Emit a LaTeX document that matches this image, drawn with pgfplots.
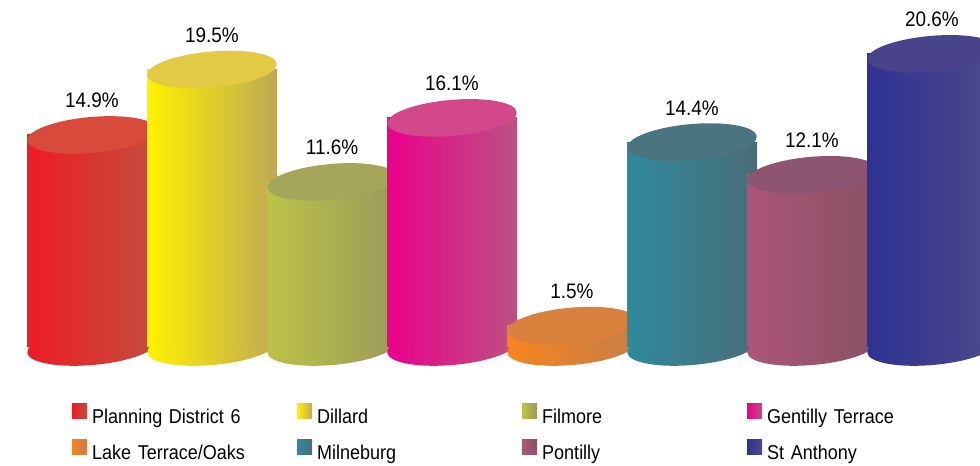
\documentclass[border=0pt]{standalone}
\usepackage{fontspec}
\setmainfont{Liberation Sans}[FakeStretch=0.9]
\usepackage{pgfplots}
\pgfplotsset{compat=1.18}

\definecolor{c1L}{HTML}{EE1C24}\definecolor{c1R}{HTML}{C24E3E}\definecolor{c1T}{HTML}{D84A3A}
\definecolor{c2L}{HTML}{FFF200}\definecolor{c2R}{HTML}{BFA955}\definecolor{c2T}{HTML}{E2CA45}
\definecolor{c3L}{HTML}{BCC246}\definecolor{c3R}{HTML}{9A9A5C}\definecolor{c3T}{HTML}{A6A65A}
\definecolor{c4L}{HTML}{EC008C}\definecolor{c4R}{HTML}{BC5282}\definecolor{c4T}{HTML}{D2488A}
\definecolor{c5L}{HTML}{F7851F}\definecolor{c5R}{HTML}{C67E48}\definecolor{c5T}{HTML}{D8803C}
\definecolor{c6L}{HTML}{2E8A9E}\definecolor{c6R}{HTML}{4B6C76}\definecolor{c6T}{HTML}{4A7580}
\definecolor{c7L}{HTML}{AD5578}\definecolor{c7R}{HTML}{875264}\definecolor{c7T}{HTML}{8E5570}
\definecolor{c8L}{HTML}{2E3192}\definecolor{c8R}{HTML}{4E4A8A}\definecolor{c8T}{HTML}{48438A}

\pgfdeclarehorizontalshading{sh1}{100bp}{color(0bp)=(c1L); color(25bp)=(c1L); color(75bp)=(c1R); color(100bp)=(c1R)}
\pgfdeclarehorizontalshading{sh2}{100bp}{color(0bp)=(c2L); color(25bp)=(c2L); color(75bp)=(c2R); color(100bp)=(c2R)}
\pgfdeclarehorizontalshading{sh3}{100bp}{color(0bp)=(c3L); color(25bp)=(c3L); color(75bp)=(c3R); color(100bp)=(c3R)}
\pgfdeclarehorizontalshading{sh4}{100bp}{color(0bp)=(c4L); color(25bp)=(c4L); color(75bp)=(c4R); color(100bp)=(c4R)}
\pgfdeclarehorizontalshading{sh5}{100bp}{color(0bp)=(c5L); color(25bp)=(c5L); color(75bp)=(c5R); color(100bp)=(c5R)}
\pgfdeclarehorizontalshading{sh6}{100bp}{color(0bp)=(c6L); color(25bp)=(c6L); color(75bp)=(c6R); color(100bp)=(c6R)}
\pgfdeclarehorizontalshading{sh7}{100bp}{color(0bp)=(c7L); color(25bp)=(c7L); color(75bp)=(c7R); color(100bp)=(c7R)}
\pgfdeclarehorizontalshading{sh8}{100bp}{color(0bp)=(c8L); color(25bp)=(c8L); color(75bp)=(c8R); color(100bp)=(c8R)}

\def\cylsh{sh1}
\pgfdeclareplotmark{cyltop}{%
  \pgfpathellipse{\pgfpointorigin}{\pgfqpoint{64.75pt}{5.67pt}}{\pgfqpoint{-1.57pt}{17.93pt}}%
  \pgfusepathqfill}
\pgfdeclareplotmark{cylbot}{%
  \pgfpathellipse{\pgfpointorigin}{\pgfqpoint{64.75pt}{5.67pt}}{\pgfqpoint{-1.57pt}{17.93pt}}%
  \pgfshadepath{\cylsh}{0}\pgfusepath{}}

\newcommand\cyl[7]{%
  \addplot[forget plot, only marks, mark=cylbot,
    mark options={/utils/exec={\def\cylsh{#7}}}]
    coordinates {(#1,0)};
  \addplot[ybar, bar width=1.0833, bar shift=0pt, draw=none,
    left color=#3, right color=#4,
    mark=cyltop, mark options={fill=#5, draw=none},
    nodes near coords={\pgfmathprintnumber[fixed,precision=1,fixed zerofill,assume math mode=true]{\pgfplotspointmeta}\%},
    every node near coord/.style={anchor=base, yshift=27pt, text=black, font=\fontsize{21}{25}\selectfont},
    legend image code/.code={\fill[#3] (0pt,0pt) rectangle (15pt,15pt);}]
    coordinates {(#1,#2)};
  \addlegendentry{#6}
}

\begin{document}
\begin{tikzpicture}
\begin{axis}[
  scale only axis,
  width=980pt, height=466pt,
  xmin=-0.76667, xmax=7.4,
  ymin=-8.363, ymax=24.385,
  axis lines=none,
  clip=true, clip marker paths=true,
  legend columns=4,
  legend cell align=left,
  legend style={at={(rel axis cs:0.0735,0.135)}, anchor=north west,
    draw=none, fill=none, inner sep=0pt,
    font=\fontsize{20}{24}\selectfont,
    nodes={inner sep=2pt, text height=15pt, text depth=5pt, text width=200pt, align=left},
    column sep=3pt, row sep=9pt},
]
\cyl{0}{14.9}{c1L}{c1R}{c1T}{Planning District 6}{sh1}
\cyl{1}{19.5}{c2L}{c2R}{c2T}{Dillard}{sh2}
\cyl{2}{11.6}{c3L}{c3R}{c3T}{Filmore}{sh3}
\cyl{3}{16.1}{c4L}{c4R}{c4T}{Gentilly Terrace}{sh4}
\cyl{4}{1.5}{c5L}{c5R}{c5T}{Lake Terrace/Oaks}{sh5}
\cyl{5}{14.4}{c6L}{c6R}{c6T}{Milneburg}{sh6}
\cyl{6}{12.1}{c7L}{c7R}{c7T}{Pontilly}{sh7}
\cyl{7}{20.6}{c8L}{c8R}{c8T}{St Anthony}{sh8}
\end{axis}
\pgfresetboundingbox
\path (current axis.south west) rectangle (current axis.north east);
\end{tikzpicture}
\end{document}
